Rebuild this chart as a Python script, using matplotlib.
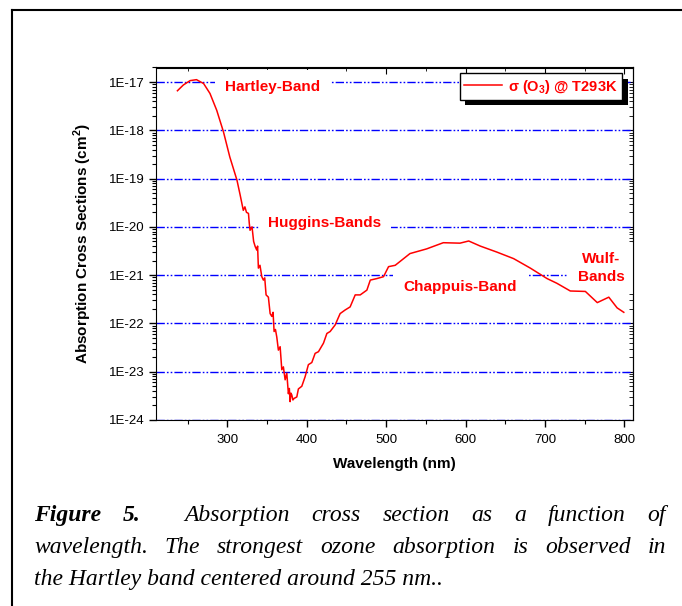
import numpy as np
import matplotlib
matplotlib.use("Agg")
import matplotlib.pyplot as plt
from matplotlib import ticker, patheffects
from matplotlib.lines import Line2D

plt.rcParams['font.family'] = ['Liberation Sans', 'DejaVu Sans']
plt.rcParams['mathtext.fontset'] = 'custom'
plt.rcParams['mathtext.bf'] = 'Liberation Sans:bold'
plt.rcParams['mathtext.rm'] = 'Liberation Sans'

# O3 cross section (nm, cm^2)
wavelength = [237, 244.5, 253, 261, 270, 278, 286.5, 295, 303, 312, 316, 320, 322, 324,
              326.5, 327.5, 328.5, 331, 333, 335, 337, 338, 339, 341, 343.3, 345.3, 347,
              348.7, 351.6, 353.8, 355.9, 357.5, 358.8, 360.5, 362.2, 364.2, 366.4, 368.5,
              370.5, 372.7, 374.8, 376.8, 378, 379, 380, 381.1, 382.5, 384, 387.4, 389.4,
              393.7, 397.9, 402, 406.3, 410.5, 414.7, 421, 425.3, 429.4, 435.7, 442,
              448.3, 454.6, 461, 467.3, 475.7, 480, 488.3, 496.7, 503, 511.4, 530, 551,
              572, 593, 604, 618.6, 639.6, 660.6, 681.6, 702.7, 715, 732, 751, 766,
              780.5, 791, 799.4]
sigma = [6.6e-18, 8.7e-18, 1.07e-17, 1.12e-17, 9.3e-18, 5.8e-18, 2.6e-18, 9.3e-19,
         2.8e-19, 9.3e-20, 4.6e-20, 2.2e-20, 2.6e-20, 2.0e-20, 1.9e-20, 1.2e-20, 8.5e-21,
         1.0e-20, 5.0e-21, 3.9e-21, 3.3e-21, 4.0e-21, 1.4e-21, 1.6e-21, 9.3e-22, 7.9e-22,
         8.8e-22, 3.9e-22, 3.5e-22, 1.6e-22, 1.4e-22, 1.7e-22, 6.8e-23, 7.5e-23, 5.2e-23,
         2.8e-23, 3.3e-23, 1.1e-23, 1.26e-23, 6.8e-24, 9.3e-24, 3.5e-24, 4.5e-24, 2.4e-24,
         3.6e-24, 3.3e-24, 2.6e-24, 2.8e-24, 3.0e-24, 4.4e-24, 5.0e-24, 7.9e-24, 1.4e-23,
         1.55e-23, 2.4e-23, 2.6e-23, 3.9e-23, 6.2e-23, 6.8e-23, 9.3e-23, 1.6e-22, 1.9e-22,
         2.2e-22, 3.9e-22, 3.9e-22, 4.9e-22, 7.9e-22, 8.5e-22, 9.3e-22, 1.5e-21, 1.6e-21,
         2.8e-21, 3.5e-21, 4.7e-21, 4.6e-21, 5.1e-21, 4.0e-21, 3.0e-21, 2.2e-21, 1.4e-21,
         8.5e-22, 6.8e-22, 4.7e-22, 4.6e-22, 2.7e-22, 3.5e-22, 2.1e-22, 1.7e-22]

decades = [1e-24, 1e-23, 1e-22, 1e-21, 1e-20, 1e-19, 1e-18, 1e-17]

band_names = ["Hartley-Band", "Huggins-Bands", "Chappuis-Band", "Wulf-\nBands"]
band_x = [357, 423, 593, 771]
band_y = [7.9e-18, 1.2e-20, 5.6e-22, 1.4e-21]

caption = [["Figure", "5.", "Absorption", "cross", "section", "as", "a", "function", "of"],
           ["wavelength.", "The", "strongest", "ozone", "absorption", "is", "observed", "in"],
           ["the Hartley band centered around 255 nm.."]]

W, H = 682, 606
fig = plt.figure(figsize=(W / 100, H / 100), dpi=100)
ax = fig.add_axes([156 / W, 1 - 420 / H, 477 / W, 352.5 / H])

red = "#ff0000"
ax.plot(wavelength, sigma, color=red, lw=1.1, zorder=4, label=r"σ (O$_\mathbf{3}$) @ T293K")
ax.set_yscale("log")
ax.set_xlim(210, 811)
ax.set_ylim(1e-24, 2.0e-17)

ax.xaxis.set_major_locator(ticker.MultipleLocator(100))
ax.xaxis.set_minor_locator(ticker.MultipleLocator(50))
ax.yaxis.set_major_locator(ticker.FixedLocator(decades))
ax.yaxis.set_minor_locator(ticker.LogLocator(base=10, subs=np.arange(2, 10), numticks=20))
ax.yaxis.set_major_formatter(ticker.FuncFormatter(lambda v, p: "1E%d" % round(np.log10(v))))
ax.yaxis.set_minor_formatter(ticker.NullFormatter())
ax.tick_params(which="major", direction="out", length=5, width=1, labelsize=9.5, pad=3)
ax.tick_params(which="minor", direction="out", length=3, width=0.8)
ax.tick_params(axis="x", pad=5)

top = ax.secondary_xaxis("top")
top.xaxis.set_major_locator(ticker.MultipleLocator(100))
top.xaxis.set_minor_locator(ticker.MultipleLocator(50))
top.xaxis.set_major_formatter(ticker.NullFormatter())
top.tick_params(which="both", direction="in", labeltop=False)
top.tick_params(which="major", length=5)
top.tick_params(which="minor", length=3)
right = ax.secondary_yaxis("right")
right.yaxis.set_major_locator(ticker.FixedLocator(decades))
right.yaxis.set_minor_locator(ticker.LogLocator(base=10, subs=np.arange(2, 10), numticks=20))
right.yaxis.set_major_formatter(ticker.NullFormatter())
right.tick_params(which="both", direction="in", labelright=False)
right.tick_params(which="major", length=5)
right.tick_params(which="minor", length=3)

ax.set_axisbelow(True)
ax.grid(axis="y", which="major", color="#0000ff", lw=1.0,
        linestyle=(0, (6, 1.5, 1.2, 1.5, 1.2, 1.5)))

for name, bx, by in zip(band_names, band_x, band_y):
    ax.text(bx, by, name, color=red, fontsize=11, fontweight="bold", ha="center",
            va="center", zorder=2, linespacing=1.3,
            bbox=dict(fc="white", ec="none", pad=7))

ax.set_xlabel("Wavelength (nm)", fontsize=11, fontweight="bold", labelpad=8)
ax.set_ylabel(r"Absorption Cross Sections (cm$^\mathbf{2}$)", fontsize=11,
              fontweight="bold", labelpad=11)

leg = ax.legend(loc="upper right", bbox_to_anchor=(0.977, 0.984), fancybox=False,
                frameon=True, fontsize=10.5, handlelength=2.6, borderaxespad=0,
                borderpad=0.3, handletextpad=0.4, framealpha=1)
for t in leg.get_texts():
    t.set_color(red)
    t.set_fontweight("bold")
frame = leg.get_frame()
frame.set_edgecolor("black")
frame.set_linewidth(1.0)
frame.set_path_effects([patheffects.SimplePatchShadow(offset=(4, -4), shadow_rgbFace="black",
                                                      alpha=1.0), patheffects.Normal()])
leg.set_zorder(6)

# page frame (top and left edges visible)
fig.add_artist(Line2D([12 / W, 1], [1 - 10 / H, 1 - 10 / H], transform=fig.transFigure,
                      color="black", lw=1.5))
fig.add_artist(Line2D([12 / W, 12 / W], [0, 1 - 10 / H], transform=fig.transFigure,
                      color="black", lw=1.5))

# justified caption
renderer = fig.canvas.get_renderer()
x0, x1 = 34, 666
baselines = [521, 553, 585]
for i, words in enumerate(caption):
    texts = []
    for j, w in enumerate(words):
        bold = i == 0 and j < 2
        texts.append(fig.text(x0 / W, 1 - baselines[i] / H, w, fontsize=17,
                              family="Liberation Serif", style="italic",
                              fontweight="bold" if bold else "normal", va="baseline"))
    widths = [t.get_window_extent(renderer).width for t in texts]
    gaps = [1.0] * (len(words) - 1)
    if i == 0:
        gaps[1] = 2.0
    unit = ((x1 - x0) - sum(widths)) / sum(gaps) if i < 2 else 0
    x = x0
    for k, (t, w) in enumerate(zip(texts, widths)):
        t.set_x(x / W)
        if k < len(gaps):
            x += w + unit * gaps[k]

fig.savefig("out.png", dpi=100)
